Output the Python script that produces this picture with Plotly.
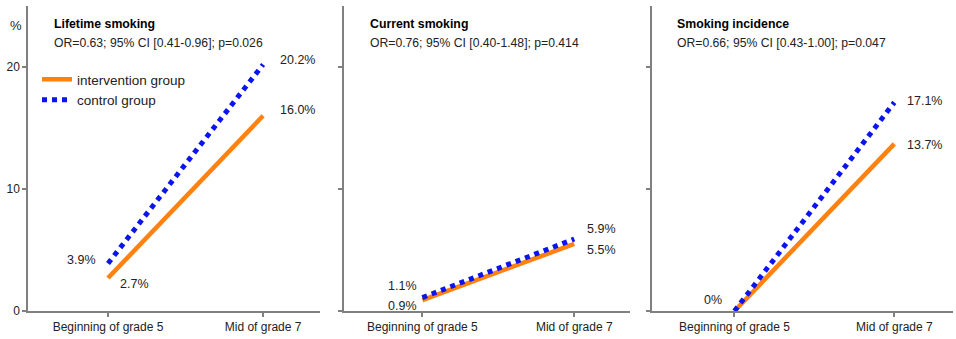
import plotly.graph_objects as go

# Survey time points
timepoints = ["Beginning of grade 5", "Mid of grade 7"]

# Panel titles and odds-ratio summaries
panel_titles = ["Lifetime smoking", "Current smoking", "Smoking incidence"]
panel_stats = [
    "OR=0.63; 95% CI [0.41-0.96]; p=0.026",
    "OR=0.76; 95% CI [0.40-1.48]; p=0.414",
    "OR=0.66; 95% CI [0.43-1.00]; p=0.047",
]

# Prevalence (%) per panel
intervention = [[2.7, 16.0], [0.9, 5.5], [0.0, 13.7]]
control = [[3.9, 20.2], [1.1, 5.9], [0.0, 17.1]]

y_ticks = [0, 10, 20]

ORANGE = "#ff8210"
BLUE = "#0a14f0"
AXIS = "#808080"
TEXT = "#222222"
FONT = "Liberation Sans, Arial, sans-serif"

W, H = 956, 339
x_domains = [[28 / W, 320 / W], [344 / W, 630 / W], [652 / W, 953 / W]]
y_domain = [(H - 311) / H, (H - 6) / H]

fig = go.Figure()

for i in range(3):
    ax = "" if i == 0 else str(i + 1)
    xs = [0, 1]
    fig.add_trace(go.Scatter(
        x=xs, y=intervention[i], mode="lines", name="intervention group",
        line=dict(color=ORANGE, width=4.5), showlegend=(i == 0),
        xaxis="x" + ax, yaxis="y" + ax, cliponaxis=False,
    ))
    fig.add_trace(go.Scatter(
        x=xs, y=control[i], mode="lines", name="control group",
        line=dict(color=BLUE, width=5, dash="5px,5px"), showlegend=(i == 0),
        xaxis="x" + ax, yaxis="y" + ax, cliponaxis=False,
    ))
    fig.update_layout(**{
        "xaxis" + ax: dict(
            domain=x_domains[i], range=[-0.516, 1.367],
            tickmode="array", tickvals=[0, 1], ticktext=timepoints,
            showline=True, linecolor=AXIS, linewidth=1.5,
            ticks="outside", ticklen=4, tickcolor=AXIS, tickwidth=1.5,
            showgrid=False, zeroline=False, automargin=False,
            tickfont=dict(size=12, color=TEXT, family=FONT), fixedrange=True,
        ),
        "yaxis" + ax: dict(
            domain=y_domain, range=[0, 25], anchor="x" + ax,
            tickmode="array", tickvals=y_ticks,
            showticklabels=(i == 0),
            showline=True, linecolor=AXIS, linewidth=1.5,
            ticks="outside", ticklen=4, tickcolor=AXIS, tickwidth=1.5,
            showgrid=False, zeroline=False, automargin=False,
            tickfont=dict(size=12, color=TEXT, family=FONT), fixedrange=True,
        ),
    })
    if i > 0:
        fig.layout["xaxis" + ax].anchor = "y" + ax

annotations = []
# Panel titles and statistics
for i in range(3):
    x0 = x_domains[i][0] + 23.5 / W
    annotations.append(dict(
        text="<b>" + panel_titles[i] + "</b>", xref="paper", yref="paper",
        x=x0, y=1 - 23.5 / H, xanchor="left", yanchor="middle", showarrow=False,
        font=dict(size=12.3, color="#000000", family=FONT),
    ))
    annotations.append(dict(
        text=panel_stats[i], xref="paper", yref="paper",
        x=x0, y=1 - 43.5 / H, xanchor="left", yanchor="middle", showarrow=False,
        font=dict(size=12.2, color=TEXT, family=FONT),
    ))

# Percent sign above the first y axis
annotations.append(dict(
    text="%", xref="paper", yref="paper", x=16 / W, y=1 - 25 / H,
    xanchor="center", yanchor="middle", showarrow=False,
    font=dict(size=13, color=TEXT, family=FONT),
))

# Value labels: (panel, series, point index, xanchor, xshift, yshift)
label_layout = [
    (0, control, 1, "left", 15, 5),
    (0, intervention, 1, "left", 15, 6),
    (0, control, 0, "right", -10, 3),
    (0, intervention, 0, "left", 10, -6),
    (1, control, 1, "left", 11, 10),
    (1, intervention, 1, "left", 11, -6),
    (1, control, 0, "right", -3, 12),
    (1, intervention, 0, "right", -3, -6),
    (2, control, 1, "left", 11, 1),
    (2, intervention, 1, "left", 11, -1),
]
for p, series, k, anchor, dx, dy in label_layout:
    ax = "" if p == 0 else str(p + 1)
    v = series[p][k]
    annotations.append(dict(
        text=f"{v:.1f}%", x=k, y=v, xref="x" + ax, yref="y" + ax,
        xanchor=anchor, yanchor="middle", xshift=dx, yshift=dy,
        showarrow=False, font=dict(size=12.5, color=TEXT, family=FONT),
    ))
# Zero incidence at baseline
annotations.append(dict(
    text=f"{intervention[2][0]:.0f}%", x=0, y=intervention[2][0],
    xref="x3", yref="y3", xanchor="right", yanchor="middle",
    xshift=-10, yshift=11, showarrow=False,
    font=dict(size=12.5, color=TEXT, family=FONT),
))

fig.update_layout(
    width=W, height=H,
    margin=dict(l=0, r=0, t=0, b=0),
    paper_bgcolor="white", plot_bgcolor="white",
    annotations=annotations,
    showlegend=True,
    legend=dict(
        x=37 / W, y=1 - 64 / H, xanchor="left", yanchor="top",
        bgcolor="rgba(0,0,0,0)", tracegroupgap=0, itemwidth=30,
        font=dict(size=13.5, color=TEXT, family=FONT),
    ),
)

fig.write_html("out.html")
